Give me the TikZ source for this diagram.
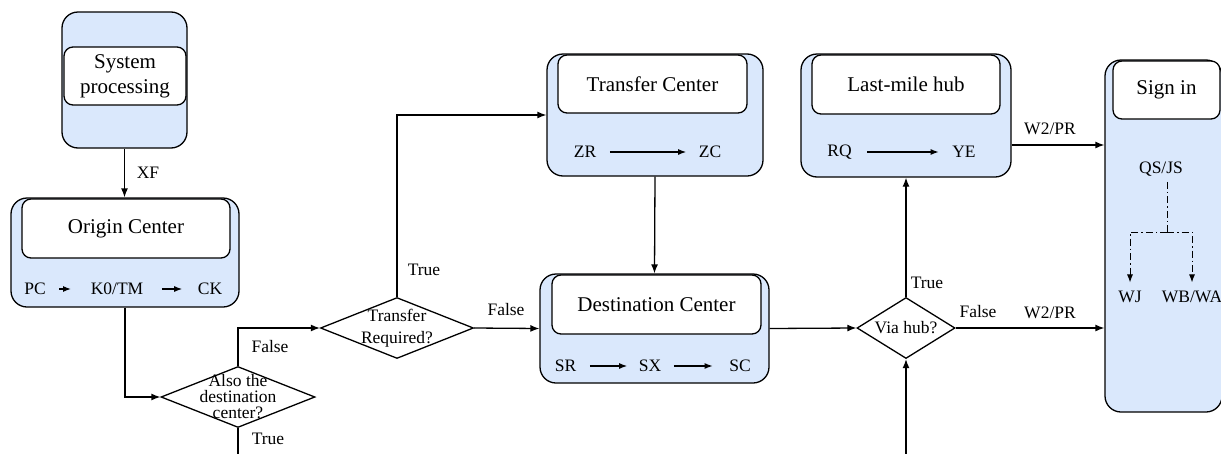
\documentclass[tikz,border=0pt]{standalone}
\usepackage{fontspec}
\setmainfont{Liberation Serif}
\usetikzlibrary{positioning,arrows.meta,shapes.geometric}
\definecolor{laneblue}{HTML}{DAE8FC}

\begin{document}
\begin{tikzpicture}[
  x=1pt, y=-1pt,
  >={Latex[length=9pt,width=7pt]},
  line width=1.3pt,
  big/.style={font=\fontsize{21}{25}\selectfont},
  small/.style={font=\fontsize{17.5}{22}\selectfont},
  lane/.style={draw, rounded corners=16pt, fill=laneblue, inner sep=0pt},
  head/.style={draw, rounded corners=9pt, fill=white, align=center, big, inner sep=0pt},
  decide/.style={draw, diamond, fill=white, inner sep=0pt},
  code/.style={small, inner sep=2pt},
  lbl/.style={small, inner sep=0pt},
  hop/.style={-{Latex[length=8pt,width=6pt]}},
  signal/.style={dash pattern=on 7pt off 3pt on 1.5pt off 3pt}
]
  \useasboundingbox (0,0) rectangle (1221,453);
  \node[lane, minimum width=125pt, minimum height=136pt] (sys) at (124.5,80) {};
  \node[head, minimum width=122pt, minimum height=58pt] (sysin) at (125,76) {System\\processing};
  \node[lane, minimum width=228pt, minimum height=109pt] (orig) at (125,252.5) {};
  \node[head, minimum width=208pt, minimum height=59pt] (origin) at (126,228.5) {Origin Center};
  \node[code] (pc) at (35,289) {PC};
  \node[code] (k0) at (117,289) {K0/TM};
  \node[code] (ck) at (210,289) {CK};
  \draw[hop] ([xshift=11pt]pc.east) -- ([xshift=-17pt]k0.west);
  \draw[hop] ([xshift=16pt]k0.east) -- ([xshift=-13pt]ck.west);

  \node[decide, minimum width=154pt, minimum height=61pt,
    label={[small, font=\fontsize{17.5}{16}\selectfont, align=center]center:Also the\\destination\\center?}] (alsod) at (238,397) {};
  \node[decide, minimum width=153pt, minimum height=61pt,
    label={[small, align=center]center:Transfer\\Required?}] (treq) at (397,328) {};

  \node[lane, minimum width=216pt, minimum height=122pt] (trans) at (655,115) {};
  \node[head, minimum width=189pt, minimum height=58pt] (transin) at (652.5,84) {Transfer Center};
  \node[code] (zr) at (585,152) {ZR};
  \node[code] (zc) at (710,152) {ZC};
  \draw[hop] ([xshift=11pt]zr.east) -- ([xshift=-10pt]zc.west);

  \node[lane, minimum width=229pt, minimum height=109pt] (dest) at (654.5,328.5) {};
  \node[head, minimum width=209pt, minimum height=59pt] (destin) at (656.5,304.5) {Destination Center};
  \node[code] (sr) at (565.5,366) {SR};
  \node[code] (sx) at (650,366) {SX};
  \node[code] (sc) at (740,366) {SC};
  \draw[hop] ([xshift=11pt]sr.east) -- ([xshift=-9pt]sx.west);
  \draw[hop] ([xshift=10pt]sx.east) -- ([xshift=-14pt]sc.west);

  \node[decide, minimum width=98pt, minimum height=61pt,
    label={[small]center:Via hub?}] (viahub) at (906,328) {};

  \node[lane, minimum width=210pt, minimum height=123pt] (last) at (906,115.5) {};
  \node[head, minimum width=188pt, minimum height=59pt] (lastin) at (906,84.5) {Last-mile hub};
  \node[code] (rq) at (839.5,152) {RQ};
  \node[code] (ye) at (964,152) {YE};
  \draw[hop] ([xshift=13pt]rq.east) -- ([xshift=-11pt]ye.west);

  \node[lane, minimum width=117pt, minimum height=352pt] (sign) at (1163.5,236) {};
  \node[head, minimum width=107pt, minimum height=58pt] (signin) at (1166.5,90) {Sign in};
  \node[lbl] (qs) at (1161,169) {QS/JS};
  \node[lbl] (wj) at (1130,297) {WJ};
  \node[lbl] (wb) at (1192,297) {WB/WA};
  \coordinate (split) at (1167,232);
  \draw[signal, line width=1pt, shorten <=5pt] (split |- qs.south) -- (split);
  \draw[signal, line width=1pt, hop, shorten >=8pt] (split) -| (wj.north);
  \draw[signal, line width=1pt, hop, shorten >=8pt] (split) -| (wb.north);

  \draw[->] (sys.south) -- (sys.south |- orig.north);
  \node[lbl] (xf) at (148,173) {XF};
  \draw[->] (orig.south) |- (alsod.west);
  \draw[->] (alsod.north) |- (treq.west);
  \node[lbl] (f1) at (270,347) {False};
  \coordinate (alsoout) at (238,460);
  \draw (alsod.south) -- (alsoout);
  \node[lbl] (t1) at (268,439) {True};
  \draw[->] (treq.north) |- (trans.west);
  \node[lbl] (t2) at (424,270) {True};
  \draw[->] (treq.east) -- (dest.west);
  \node[lbl] (f2) at (506,310) {False};
  \draw[->] (trans.south) -- (dest.north);
  \draw[->] (dest.east) -- (viahub.west);
  \draw[->] (viahub.north) -- (last.south);
  \node[lbl] (t3) at (927,283) {True};
  \coordinate (lastout) at ([yshift=-29.5pt]last.east);
  \draw[->] (lastout) -- (lastout -| sign.west);
  \node[lbl] (w1) at (1050,129) {W2/PR};
  \draw[->] (viahub.east) -- (viahub.east -| sign.west);
  \node[lbl] (f3) at (978,312) {False};
  \node[lbl] (w2) at (1050,313) {W2/PR};
  \coordinate (hubin) at (906,460);
  \draw[->] (hubin) -- (viahub.south);
\end{tikzpicture}
\end{document}
